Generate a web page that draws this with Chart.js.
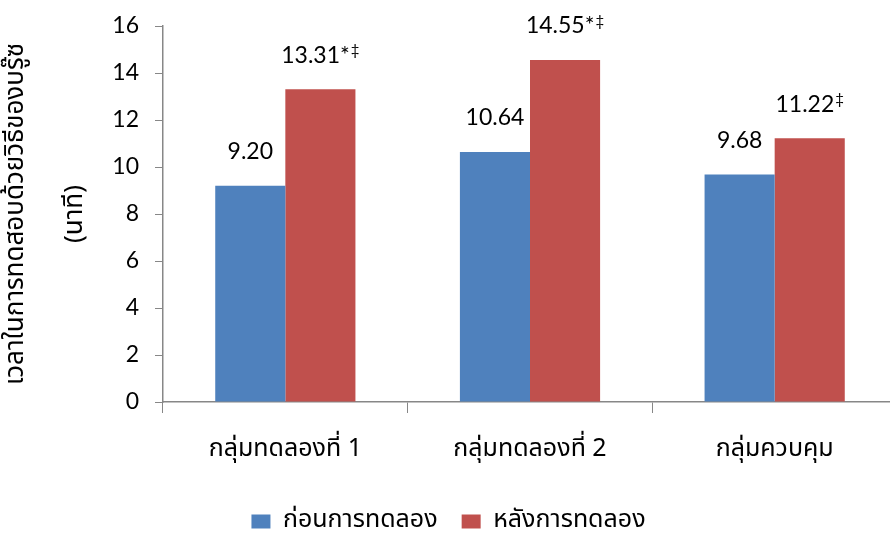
<!DOCTYPE html>
<html lang="th">
<head>
<meta charset="utf-8">
<title>เวลาในการทดสอบ</title>
<script src="https://cdn.jsdelivr.net/npm/chart.js@4/dist/chart.umd.min.js"></script>
<style>
    html, body { margin: 0; padding: 0; background: #fff; overflow: hidden; width: 890px; height: 535px; }
    canvas { display: block; }
</style>
</head>
<body>
<canvas id="grafica" width="902" height="544"></canvas>
<script>
/* GRAFICA DE BARRAS: ANTES / DESPUES POR GRUPO */

// Datos
const grupos = ["กลุ่มทดลองที่ 1", "กลุ่มทดลองที่ 2", "กลุ่มควบคุม"];
const antes = [9.20, 10.64, 9.68];
const despues = [13.31, 14.55, 11.22];
const marcasAntes = ["", "", ""];       // asterisco (tamaño normal)
const marcasDespues = ["*", "*", ""];
const dagasAntes = ["", "", ""];        // doble daga en superindice
const dagasDespues = ["‡", "‡", "‡"];
const ticksY = [0, 2, 4, 6, 8, 10, 12, 14, 16];
const tituloY = ["เวลาในการทดสอบด้วยวิธีของบรู๊ซ", "(นาที)"];

const FUENTE_NUM = "Lato, 'Open Sans', sans-serif";
const FUENTE_TH = "'Noto Sans Thai', 'Noto Sans', sans-serif";
const GRIS = "#878787";

// Etiquetas de valor encima de cada barra
const etiquetasValor = {
    id: "etiquetasValor",
    afterDatasetsDraw(chart) {
        const ctx = chart.ctx;
        chart.data.datasets.forEach((ds, i) => {
            const meta = chart.getDatasetMeta(i);
            meta.data.forEach((barra, j) => {
                const num = ds.data[j].toFixed(2) + ds.marcas[j];
                const daga = ds.dagas[j];
                ctx.save();
                ctx.fillStyle = "#000";
                ctx.textBaseline = "middle";
                ctx.textAlign = "left";
                ctx.font = "23px " + FUENTE_NUM;
                const wNum = ctx.measureText(num).width;
                ctx.font = "15px " + FUENTE_NUM;
                const wDaga = daga ? ctx.measureText(daga).width + 1 : 0;
                const x0 = barra.x - (wNum + wDaga) / 2;
                const y = barra.y - 34;
                ctx.font = "23px " + FUENTE_NUM;
                ctx.fillText(num, x0, y);
                if (daga) {
                    ctx.font = "15px " + FUENTE_NUM;
                    ctx.fillText(daga, x0 + wNum + 1, y - 5);
                }
                ctx.restore();
            });
        });
    }
};

// Titulo vertical del eje Y en dos lineas
const tituloEjeY = {
    id: "tituloEjeY",
    afterDraw(chart) {
        const ctx = chart.ctx;
        const area = chart.chartArea;
        const yc = (area.top + area.bottom) / 2;
        ctx.save();
        ctx.fillStyle = "#000";
        ctx.font = "26px " + FUENTE_TH;
        ctx.textAlign = "center";
        ctx.textBaseline = "middle";
        [18, 77].forEach((x, k) => {
            ctx.save();
            ctx.translate(x, yc);
            ctx.rotate(-Math.PI / 2);
            ctx.fillText(tituloY[k], 0, 0);
            ctx.restore();
        });
        ctx.restore();
    }
};

new Chart(document.getElementById("grafica").getContext("2d"), {
    type: "bar",
    data: {
        labels: grupos,
        datasets: [
            { label: "ก่อนการทดลอง", data: antes, marcas: marcasAntes, dagas: dagasAntes, backgroundColor: "#4F81BD" },
            { label: "หลังการทดลอง", data: despues, marcas: marcasDespues, dagas: dagasDespues, backgroundColor: "#C0504D" }
        ]
    },
    options: {
        responsive: false,
        animation: false,
        devicePixelRatio: 1,
        categoryPercentage: 0.573,
        barPercentage: 1,
        layout: { padding: { top: 26, right: 5, bottom: 0, left: 0 } },
        plugins: {
            legend: {
                position: "bottom",
                labels: {
                    boxWidth: 19, boxHeight: 14, padding: 24,
                    color: "#000",
                    font: { family: FUENTE_TH, size: 25 }
                }
            },
            tooltip: { enabled: false }
        },
        scales: {
            x: {
                grid: { display: true, drawOnChartArea: false, drawTicks: true, tickLength: 11, color: GRIS },
                border: { color: GRIS, width: 1.5 },
                ticks: { color: "#000", padding: 23, font: { family: FUENTE_TH, size: 25 } },
                afterFit: (s) => { s.height = 83; }
            },
            y: {
                min: 0, max: 16,
                afterBuildTicks: (s) => { s.ticks = ticksY.map(v => ({ value: v })); },
                grid: { display: true, drawOnChartArea: false, drawTicks: true, tickLength: 8, color: GRIS },
                border: { color: GRIS, width: 1.5 },
                ticks: { color: "#000", padding: 16, font: { family: FUENTE_NUM, size: 23 } },
                afterFit: (s) => { s.width = 163; s.paddingTop = 0; s.paddingBottom = 0; }
            }
        }
    },
    plugins: [etiquetasValor, tituloEjeY]
});
</script>
</body>
</html>
